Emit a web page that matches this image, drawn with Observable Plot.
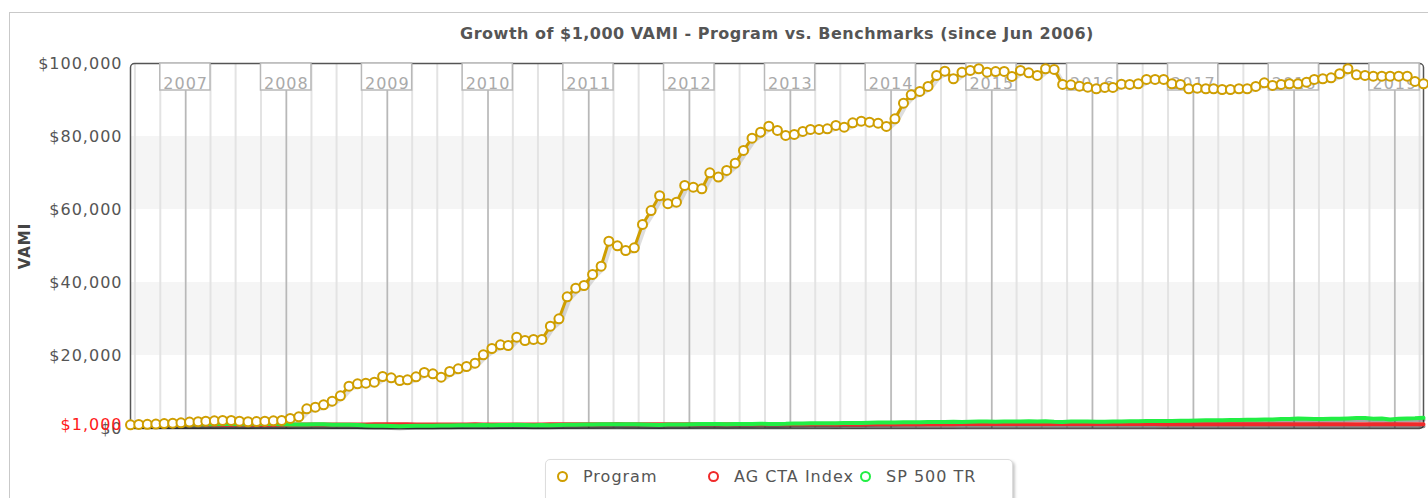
<!DOCTYPE html>
<html>
<head>
<meta charset="utf-8">
<script src="https://cdn.jsdelivr.net/npm/d3@7"></script>
<script src="https://cdn.jsdelivr.net/npm/@observablehq/plot@0.6"></script>
<style>
  html, body { margin: 0; padding: 0; background: #fff; }
  body { width: 1428px; height: 498px; overflow: hidden; position: relative; font-family: "DejaVu Sans", sans-serif; }
  #border { position: absolute; left: 9px; top: 12px; width: 1500px; height: 600px; border: 1px solid #c9c9c9; }
  #chart { position: absolute; left: 0; top: 0; }
  #chart svg text { letter-spacing: 1px; }
  #title { position: absolute; left: 130px; width: 1294px; top: 24px; text-align: center; font-weight: bold; font-size: 16px; letter-spacing: 0.5px; color: #555; white-space: nowrap; }
  #ylabel { position: absolute; left: 25px; top: 246px; transform: translate(-50%, -50%) rotate(-90deg); font-weight: bold; font-size: 15px; letter-spacing: 1px; color: #444; white-space: nowrap; }
  #legend { position: absolute; left: 545px; top: 459px; width: 466px; height: 44px; border: 1px solid #ddd; border-radius: 5px; box-shadow: 2px 2px 3px rgba(0,0,0,0.22); background: #fff; }
  .item { position: absolute; top: 467px; font-size: 16px; letter-spacing: 1px; color: #555; white-space: nowrap; line-height: 20px; }
  .mk { position: absolute; top: 471px; width: 7px; height: 7px; border-radius: 50%; border: 2.5px solid; background: #fff; }
</style>
</head>
<body>
<div id="border"></div>
<div id="chart"></div>
<div id="title"></div>
<div id="ylabel"></div>
<div id="legend"></div>
<script>
// ---------------- DATA ----------------
const titleText = "Growth of $1,000 VAMI - Program vs. Benchmarks (since Jun 2006)";
const yLabelText = "VAMI";
const seriesNames = ["Program", "AG CTA Index", "SP 500 TR"];
const seriesColors = ["#cf9e00", "#f02a2a", "#22ee44"];
const firstMonth = "2006-06"; // monthly observations, Jun 2006 .. Apr 2019
const yTicks = [0, 20000, 40000, 60000, 80000, 100000];
const startValue = 1000;

const program = [
  1000, 1100, 1150, 1200, 1350, 1450, 1550,
  1750, 1850, 2000, 2100, 2200, 2200, 2000, 1850, 1900, 2000, 2100, 2200,
  2750, 3200, 5400, 5840, 6490, 7490, 8950, 11600, 12240, 12420, 12700, 14250,
  13880, 13150, 13330, 14150, 15350, 14980, 14060, 15620, 16350, 16990, 17900, 20190,
  21920, 22930, 22740, 25020, 24110, 24390, 24390, 28030, 30060, 36080, 38450, 39180,
  42200, 44470, 51320, 50060, 48770, 49510, 55900, 59700, 63800, 61600, 62000, 66600,
  66120, 65670, 70060, 68870, 70690, 72700, 76170, 79540, 81190, 82830, 81650, 80280,
  80560, 81380, 81930, 81930, 82110, 83020, 82560, 83750, 84210, 83930, 83650, 82750,
  84850, 89130, 91430, 92340, 93710, 96720, 97900, 95820, 97630, 98100, 98560, 97630,
  97800, 97820, 96450, 98100, 97460, 96720, 98560, 98370, 94260, 94170, 93790, 93520,
  93080, 93430, 93430, 94340, 94260, 94450, 95630, 95630, 95630, 94450, 94260, 93080,
  93250, 93080, 93080, 92880, 92880, 93080, 93080, 93710, 94720, 93980, 94260, 94450,
  94450, 94890, 95630, 95820, 96090, 97190, 98560, 96910, 96720, 96530, 96530, 96530,
  96530, 96530, 95080, 94450
];

const agCta = [
  1000, 995, 1005, 1000, 1010, 1020, 1030,
  1035, 1020, 1010, 1015, 1025, 1030, 1015, 990, 1010, 1030, 1040, 1045,
  1050, 1090, 1100, 1085, 1090, 1100, 1080, 1075, 1095, 1110, 1150, 1160,
  1160, 1155, 1140, 1130, 1125, 1120, 1115, 1120, 1125, 1115, 1140, 1120,
  1115, 1125, 1130, 1125, 1120, 1115, 1130, 1150, 1165, 1185, 1175, 1190,
  1180, 1190, 1185, 1200, 1185, 1175, 1190, 1195, 1185, 1170, 1165, 1170,
  1175, 1180, 1170, 1160, 1165, 1170, 1180, 1175, 1170, 1160, 1155, 1160,
  1170, 1165, 1160, 1155, 1140, 1130, 1135, 1125, 1130, 1135, 1140, 1145,
  1135, 1145, 1140, 1145, 1150, 1160, 1170, 1185, 1200, 1210, 1220, 1235,
  1250, 1255, 1240, 1235, 1225, 1220, 1230, 1220, 1225, 1220, 1215, 1210,
  1220, 1230, 1215, 1205, 1200, 1215, 1210, 1205, 1195, 1190, 1185, 1190,
  1180, 1185, 1175, 1170, 1165, 1160, 1165, 1170, 1165, 1170, 1175, 1180,
  1195, 1165, 1160, 1155, 1160, 1155, 1165, 1170, 1165, 1150, 1155, 1160,
  1155, 1165, 1170, 1175
];

const sp500 = [
  1000, 1007, 1030, 1057, 1092, 1112, 1128,
  1146, 1123, 1136, 1187, 1228, 1208, 1171, 1188, 1233, 1253, 1200, 1191,
  1120, 1084, 1079, 1132, 1145, 1049, 1040, 1055, 959, 799, 740, 747,
  685, 610, 664, 727, 767, 768, 826, 856, 887, 871, 923, 941,
  908, 934, 991, 1008, 926, 878, 940, 896, 976, 1014, 1014, 1082,
  1107, 1144, 1145, 1180, 1165, 1146, 1123, 1061, 986, 1094, 1090, 1102,
  1151, 1200, 1239, 1232, 1156, 1204, 1221, 1247, 1279, 1255, 1261, 1272,
  1338, 1355, 1406, 1434, 1466, 1445, 1519, 1474, 1520, 1590, 1637, 1678,
  1621, 1693, 1707, 1721, 1760, 1795, 1771, 1840, 1814, 1859, 1908, 1902,
  1846, 1951, 1919, 1938, 1961, 1923, 1964, 1843, 1797, 1949, 1952, 1921,
  1826, 1821, 1945, 1952, 1985, 1990, 2064, 2064, 2064, 2027, 2099, 2141,
  2182, 2266, 2269, 2292, 2322, 2336, 2385, 2390, 2439, 2496, 2571, 2599,
  2749, 2646, 2578, 2588, 2648, 2664, 2764, 2852, 2868, 2673, 2724, 2477,
  2676, 2759, 2812, 2927
];

// ---------------- BUILD ----------------
const m0 = d3.utcParse("%Y-%m")(firstMonth);
const months = d3.utcMonth.range(m0, d3.utcMonth.offset(m0, program.length));
const dates = months.map(m => d3.utcDay.offset(m, 14)); // mid-month observation
const rows = (vals, name) => vals.map((v, i) => ({date: dates[i], value: v, series: name}));
const progRows = rows(program, seriesNames[0]);
const ctaRows = rows(agCta, seriesNames[1]);
const spRows = rows(sp500, seriesNames[2]);

const d0 = dates[0], d1 = dates[dates.length - 1];
const quarters = d3.utcMonth.every(3).range(d0, d1);
const years = d3.utcYear.range(d0, d1);
const yMax = yTicks[yTicks.length - 1];
const yearBoxBottom = yMax * 0.926; // label boxes hang from the top edge
const bands = [];
for (let i = 1; i + 1 < yTicks.length; i += 2) bands.push({lo: yTicks[i], hi: yTicks[i + 1]});

const fmt = d => "$" + d3.format(",")(d);
const gold = seriesColors[0], red = seriesColors[1], green = seriesColors[2];

const chart = Plot.plot({
  width: 1428,
  height: 498,
  marginLeft: 130,
  marginRight: 5,
  marginTop: 63,
  marginBottom: 70,
  style: {fontFamily: "DejaVu Sans, sans-serif", fontSize: "16px", color: "#555", background: "transparent", overflow: "visible"},
  x: {type: "utc", domain: [d0, d1], axis: null},
  y: {domain: [0, yMax], ticks: yTicks, tickFormat: fmt, tickSize: 0, tickPadding: 8, label: null},
  marks: [
    Plot.rect(bands, {x1: () => d0, x2: () => d1, y1: "lo", y2: "hi", fill: "#f5f5f5"}),
    Plot.ruleX(quarters, {stroke: "#e3e3e3", strokeWidth: 2}),
    Plot.ruleX(years, {stroke: "#b8b8b8", strokeWidth: 1.5}),
    Plot.frame({stroke: "#555", strokeWidth: 1.5, rx: 4}),
    Plot.rect(years, {
      x1: d => d3.utcMonth.offset(d, -3), x2: d => d3.utcMonth.offset(d, 3),
      y1: () => yMax, y2: () => yearBoxBottom,
      fill: "#fff", stroke: "#b8b8b8", strokeWidth: 1.5
    }),
    Plot.text(years, {x: d => d, text: d => String(d.getUTCFullYear()), frameAnchor: "top", dy: 14, fill: "#aaa", fontSize: 16}),
    // shadows
    Plot.line(ctaRows, {x: "date", y: "value", stroke: "rgba(0,0,0,0.45)", strokeWidth: 4, dy: 2}),
    Plot.line(spRows, {x: "date", y: "value", stroke: "rgba(0,0,0,0.35)", strokeWidth: 4, dy: 2}),
    Plot.line(progRows, {x: "date", y: "value", stroke: "rgba(0,0,0,0.13)", strokeWidth: 5, dx: 2, dy: 2}),
    // series
    Plot.line(ctaRows, {x: "date", y: "value", stroke: red, strokeWidth: 4}),
    Plot.line(spRows, {x: "date", y: "value", stroke: green, strokeWidth: 4}),
    Plot.line(progRows, {x: "date", y: "value", stroke: gold, strokeWidth: 3}),
    Plot.dot(progRows, {x: "date", y: "value", r: 4.5, fill: "#fff", stroke: gold, strokeWidth: 2}),
    Plot.text([startValue], {y: d => d, frameAnchor: "left", textAnchor: "end", dx: -8, text: d => fmt(d), fill: "#ff1a1a", fontSize: 16})
  ]
});
document.getElementById("chart").appendChild(chart);

document.getElementById("title").textContent = titleText;
document.getElementById("ylabel").textContent = yLabelText;

// legend
const markerX = [563, 714, 866];
seriesNames.forEach((name, i) => {
  const mk = document.createElement("span");
  mk.className = "mk";
  mk.style.left = (markerX[i] - 6) + "px";
  mk.style.borderColor = seriesColors[i];
  document.body.appendChild(mk);
  const t = document.createElement("span");
  t.className = "item";
  t.style.left = (markerX[i] + 20) + "px";
  t.textContent = name;
  document.body.appendChild(t);
});
</script>
</body>
</html>
